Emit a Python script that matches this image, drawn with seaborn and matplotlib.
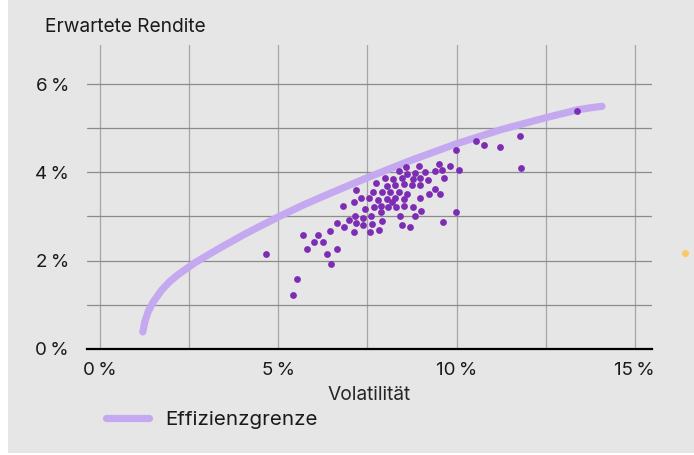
import matplotlib
matplotlib.use("Agg")
import matplotlib.pyplot as plt
import matplotlib.patches as mpatches
from matplotlib.ticker import FixedLocator, FuncFormatter
import seaborn as sns
import pandas as pd

# Efficient frontier (volatility %, expected return %)
frontier_vol = [1.20, 1.26, 1.35, 1.50, 1.73, 1.95, 2.19, 2.66, 3.31, 4.06,
                5.00, 5.70, 6.44, 7.50, 8.68, 10.00, 11.25, 12.50, 13.40, 13.80,
                14.08]
frontier_ret = [0.38, 0.62, 0.84, 1.07, 1.33, 1.52, 1.68, 1.95, 2.26, 2.60,
                2.99, 3.26, 3.52, 3.88, 4.26, 4.65, 4.97, 5.24, 5.42, 5.47,
                5.50]

# Individual portfolios (volatility %, expected return %)
port_vol = [10.54, 10.77, 11.22, 11.78, 11.80, 13.39, 9.98, 10.07, 9.51, 9.82,
            9.59, 9.39, 9.65, 9.12, 8.94, 8.58, 8.38, 8.84, 8.61, 8.47,
            8.77, 8.98, 9.20, 8.21, 7.99, 7.74, 8.05, 8.27, 8.52, 8.75,
            8.98, 9.39, 7.17, 7.67, 7.91, 8.14, 8.39, 8.62, 9.24, 9.53,
            7.31, 7.55, 7.79, 8.04, 8.28, 8.53, 8.97, 7.13, 8.19, 6.82,
            7.42, 7.68, 7.87, 8.07, 8.30, 8.54, 8.77, 9.00, 7.87, 7.15,
            7.39, 7.60, 8.41, 8.84, 9.98, 6.98, 7.19, 7.91, 9.61, 6.65,
            7.39, 7.64, 8.48, 8.70, 6.85, 7.83, 6.46, 7.13, 7.57, 5.70,
            6.11, 5.99, 6.26, 5.81, 6.65, 6.38, 4.65, 6.48, 5.53, 5.41]
port_ret = [4.72, 4.62, 4.58, 4.83, 4.11, 5.40, 4.50, 4.05, 4.20, 4.14,
            4.05, 4.04, 3.88, 4.01, 4.15, 4.12, 4.04, 3.99, 3.96, 3.87,
            3.84, 3.87, 3.82, 3.86, 3.87, 3.76, 3.70, 3.71, 3.73, 3.71,
            3.71, 3.63, 3.59, 3.56, 3.56, 3.56, 3.56, 3.51, 3.51, 3.51,
            3.43, 3.43, 3.37, 3.39, 3.43, 3.39, 3.43, 3.32, 3.32, 3.24,
            3.16, 3.21, 3.23, 3.21, 3.21, 3.23, 3.21, 3.13, 3.10, 3.02,
            2.97, 3.02, 3.02, 3.02, 3.10, 2.92, 2.85, 2.90, 2.88, 2.85,
            2.80, 2.82, 2.80, 2.77, 2.75, 2.69, 2.66, 2.65, 2.64, 2.58,
            2.58, 2.43, 2.43, 2.26, 2.27, 2.15, 2.15, 1.93, 1.59, 1.22]

# Highlighted portfolio
highlight_vol = [16.41]
highlight_ret = [2.17]

x_major = [0, 5, 10, 15]
x_minor = [2.5, 7.5, 12.5]
y_major = [0, 2, 4, 6]
y_minor = [1, 3, 5]

BG = "#e6e6e6"
FRONTIER = "#c4a9f0"
DOTS = "#7d2db4"
HIGHLIGHT = "#fdc866"

sns.set_style("white")
plt.rcParams["font.family"] = ["Inter", "DejaVu Sans"]
plt.rcParams["text.color"] = "#1a1a1a"

fig = plt.figure(figsize=(6.94, 4.55), dpi=100)
fig.patch.set_facecolor("white")
fig.patches.append(mpatches.Rectangle((8 / 694, 2 / 455), 1, 1, transform=fig.transFigure,
                                      facecolor=BG, edgecolor="none", zorder=-10))

ax = fig.add_axes([87 / 694, 106.3 / 455, 564.7 / 694, 303.7 / 455])
ax.set_facecolor(BG)

frontier = pd.DataFrame({"vol": frontier_vol, "ret": frontier_ret})
ports = pd.DataFrame({"vol": port_vol, "ret": port_ret})
hl = pd.DataFrame({"vol": highlight_vol, "ret": highlight_ret})

sns.lineplot(data=frontier, x="vol", y="ret", sort=False, estimator=None, ax=ax,
             color=FRONTIER, linewidth=5.2, solid_capstyle="round",
             solid_joinstyle="round", label="Effizienzgrenze", zorder=3)
sns.scatterplot(data=ports, x="vol", y="ret", ax=ax, color=DOTS, s=24,
                linewidth=0, legend=False, zorder=4)
sns.scatterplot(data=hl, x="vol", y="ret", ax=ax, color=HIGHLIGHT, s=26,
                linewidth=0, legend=False, zorder=4)
for coll in ax.collections:
    coll.set_clip_on(False)

ax.set_xlim(-0.365, 15.475)
ax.set_ylim(0, 6.89)

ax.xaxis.set_major_locator(FixedLocator(x_major))
ax.xaxis.set_minor_locator(FixedLocator(x_minor))
ax.yaxis.set_major_locator(FixedLocator(y_major))
ax.yaxis.set_minor_locator(FixedLocator(y_minor))
pct = FuncFormatter(lambda v, p: f"{v:.0f}\u2009%")
ax.xaxis.set_major_formatter(pct)
ax.yaxis.set_major_formatter(pct)

ax.grid(True, which="both", axis="x", color="#a6a6a6", linewidth=0.9, zorder=0)
ax.grid(True, which="both", axis="y", color="#8c8c8c", linewidth=0.9, zorder=0)
ax.set_axisbelow(True)

ax.tick_params(axis="x", which="both", length=5.8, width=0.9, color="#a6a6a6",
               direction="out", pad=4, labelsize=13.5, labelcolor="#1a1a1a")
ax.tick_params(axis="y", which="both", length=0, pad=13, labelsize=13.5,
               labelcolor="#1a1a1a")

for side in ("top", "right", "left"):
    ax.spines[side].set_visible(False)
ax.spines["bottom"].set_color("black")
ax.spines["bottom"].set_linewidth(1.6)
ax.spines["bottom"].set_zorder(2)

ax.set_xlabel("Volatilität", fontsize=13.8, labelpad=5)
ax.set_ylabel("")

fig.text(45 / 694, (455 - 32) / 455, "Erwartete Rendite", fontsize=13.8,
         ha="left", va="baseline")

ax.legend(loc="center left", bbox_to_anchor=(105.6 / 694, (455 - 420) / 455),
          bbox_transform=fig.transFigure, frameon=False, fontsize=14.8,
          handlelength=2.1, handletextpad=0.8, borderpad=0, borderaxespad=0)

fig.savefig("out.png", dpi=100, facecolor=fig.get_facecolor())
